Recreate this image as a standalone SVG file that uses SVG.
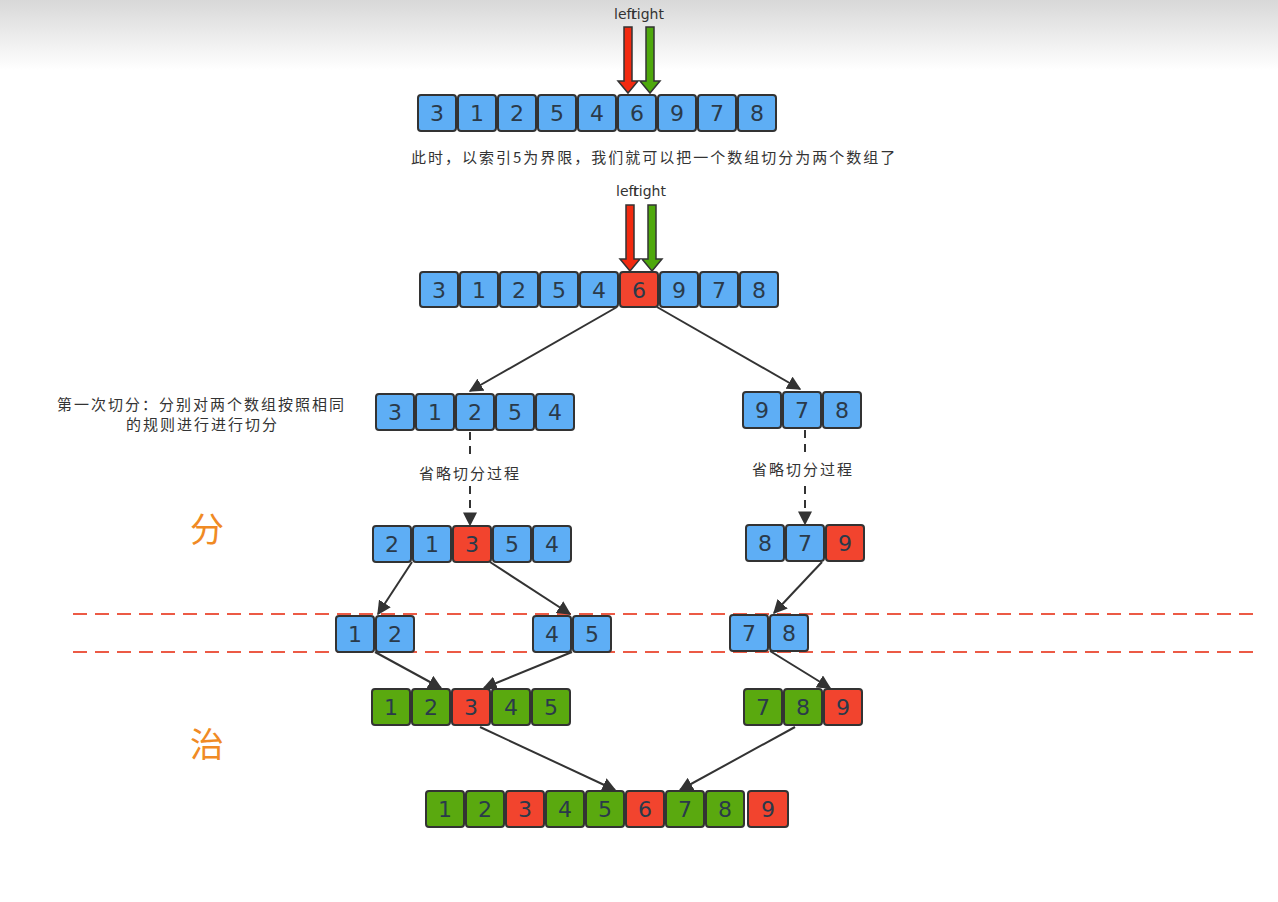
<svg xmlns="http://www.w3.org/2000/svg" width="1278" height="902" viewBox="0 0 1278 902">
<defs>
<linearGradient id="bg" x1="0" y1="0" x2="0" y2="1"><stop offset="0" stop-color="#d8d8d8"/><stop offset="1" stop-color="#ffffff"/></linearGradient>
<marker id="ah" viewBox="0 0 10 10" refX="9" refY="5" markerWidth="7" markerHeight="7" orient="auto"><path d="M0,0 L10,5 L0,10 z" fill="#333"/></marker>
</defs>
<style>
.b{fill:#5eaef5;stroke:#333;stroke-width:2}
.r{fill:#f2442e;stroke:#333;stroke-width:2}
.g{fill:#5aa90f;stroke:#333;stroke-width:2}
.n{font-family:"DejaVu Sans",sans-serif;font-size:22px;fill:#2a3a4a;text-anchor:middle}
.t{font-family:"Noto Sans CJK SC",sans-serif;font-size:15px;fill:#333;letter-spacing:2px}
.p{font-family:"DejaVu Sans",sans-serif;font-size:14px;fill:#333}
.c{stroke:#333;stroke-width:2;fill:none;marker-end:url(#ah)}
.d{stroke:#333;stroke-width:2;fill:none;stroke-dasharray:8 6;marker-end:url(#ah)}
.big{font-family:"Noto Sans CJK SC",sans-serif;font-size:34px;fill:#f08a24}
</style>
<rect width="1278" height="902" fill="#fff"/>
<rect width="1278" height="70" fill="url(#bg)"/>
<g id="pointers">
<text x="614" y="19" class="p">left</text>
<text x="631" y="19" class="p">right</text>
<path d="M624,27h8v54h6l-10,12l-10,-12h6z" fill="#f22a10" stroke="#333" stroke-width="1.5"/>
<path d="M646,27h8v54h6l-10,12l-10,-12h6z" fill="#4ea80c" stroke="#333" stroke-width="1.5"/>
<text x="616" y="196" class="p">left</text>
<text x="633" y="196" class="p">right</text>
<path d="M626,205h8v54h6l-10,12l-10,-12h6z" fill="#f22a10" stroke="#333" stroke-width="1.5"/>
<path d="M648,205h8v54h6l-10,12l-10,-12h6z" fill="#4ea80c" stroke="#333" stroke-width="1.5"/>
</g>
<g id="row1">
<rect class="b" x="418" y="95" width="38" height="36" rx="3"/><rect class="b" x="458" y="95" width="38" height="36" rx="3"/><rect class="b" x="498" y="95" width="38" height="36" rx="3"/><rect class="b" x="538" y="95" width="38" height="36" rx="3"/><rect class="b" x="578" y="95" width="38" height="36" rx="3"/><rect class="b" x="618" y="95" width="38" height="36" rx="3"/><rect class="b" x="658" y="95" width="38" height="36" rx="3"/><rect class="b" x="698" y="95" width="38" height="36" rx="3"/><rect class="b" x="738" y="95" width="38" height="36" rx="3"/>
<text class="n" y="121"><tspan x="437">3</tspan><tspan x="477">1</tspan><tspan x="517">2</tspan><tspan x="557">5</tspan><tspan x="597">4</tspan><tspan x="637">6</tspan><tspan x="677">9</tspan><tspan x="717">7</tspan><tspan x="757">8</tspan></text>
</g>
<text class="t" x="411" y="163">此时，以索引5为界限，我们就可以把一个数组切分为两个数组了</text>
<g id="row2">
<rect class="b" x="420" y="272" width="38" height="35" rx="3"/><rect class="b" x="460" y="272" width="38" height="35" rx="3"/><rect class="b" x="500" y="272" width="38" height="35" rx="3"/><rect class="b" x="540" y="272" width="38" height="35" rx="3"/><rect class="b" x="580" y="272" width="38" height="35" rx="3"/><rect class="r" x="620" y="272" width="38" height="35" rx="3"/><rect class="b" x="660" y="272" width="38" height="35" rx="3"/><rect class="b" x="700" y="272" width="38" height="35" rx="3"/><rect class="b" x="740" y="272" width="38" height="35" rx="3"/>
<text class="n" y="298"><tspan x="439">3</tspan><tspan x="479">1</tspan><tspan x="519">2</tspan><tspan x="559">5</tspan><tspan x="599">4</tspan><tspan x="639">6</tspan><tspan x="679">9</tspan><tspan x="719">7</tspan><tspan x="759">8</tspan></text>
</g>
<g id="row3">
<rect class="b" x="376" y="394" width="38" height="36" rx="3"/><rect class="b" x="416" y="394" width="38" height="36" rx="3"/><rect class="b" x="456" y="394" width="38" height="36" rx="3"/><rect class="b" x="496" y="394" width="38" height="36" rx="3"/><rect class="b" x="536" y="394" width="38" height="36" rx="3"/>
<text class="n" y="420"><tspan x="395">3</tspan><tspan x="435">1</tspan><tspan x="475">2</tspan><tspan x="515">5</tspan><tspan x="555">4</tspan></text>
<rect class="b" x="743" y="392" width="38" height="36" rx="3"/><rect class="b" x="783" y="392" width="38" height="36" rx="3"/><rect class="b" x="823" y="392" width="38" height="36" rx="3"/>
<text class="n" y="418"><tspan x="762">9</tspan><tspan x="802">7</tspan><tspan x="842">8</tspan></text>
</g>
<text class="t" x="57" y="410">第一次切分：分别对两个数组按照相同</text>
<text class="t" x="126" y="430">的规则进行进行切分</text>
<g id="row4">
<rect class="b" x="373" y="526" width="38" height="36" rx="3"/><rect class="b" x="413" y="526" width="38" height="36" rx="3"/><rect class="r" x="453" y="526" width="38" height="36" rx="3"/><rect class="b" x="493" y="526" width="38" height="36" rx="3"/><rect class="b" x="533" y="526" width="38" height="36" rx="3"/>
<text class="n" y="552"><tspan x="392">2</tspan><tspan x="432">1</tspan><tspan x="472">3</tspan><tspan x="512">5</tspan><tspan x="552">4</tspan></text>
<rect class="b" x="746" y="525" width="38" height="36" rx="3"/><rect class="b" x="786" y="525" width="38" height="36" rx="3"/><rect class="r" x="826" y="525" width="38" height="36" rx="3"/>
<text class="n" y="551"><tspan x="765">8</tspan><tspan x="805">7</tspan><tspan x="845">9</tspan></text>
</g>
<g id="dividers" stroke="#ec5a45" stroke-width="2" stroke-dasharray="14 8">
<line x1="73" y1="614" x2="1256" y2="614"/><line x1="73" y1="652" x2="1256" y2="652"/>
</g>
<g id="row5">
<rect class="b" x="336" y="616" width="38" height="36" rx="3"/><rect class="b" x="376" y="616" width="38" height="36" rx="3"/>
<text class="n" y="642"><tspan x="355">1</tspan><tspan x="395">2</tspan></text>
<rect class="b" x="533" y="616" width="38" height="36" rx="3"/><rect class="b" x="573" y="616" width="38" height="36" rx="3"/>
<text class="n" y="642"><tspan x="552">4</tspan><tspan x="592">5</tspan></text>
<rect class="b" x="730" y="615" width="38" height="36" rx="3"/><rect class="b" x="770" y="615" width="38" height="36" rx="3"/>
<text class="n" y="641"><tspan x="749">7</tspan><tspan x="789">8</tspan></text>
</g>
<g id="row6">
<rect class="g" x="372" y="689" width="38" height="36" rx="3"/><rect class="g" x="412" y="689" width="38" height="36" rx="3"/><rect class="r" x="452" y="689" width="38" height="36" rx="3"/><rect class="g" x="492" y="689" width="38" height="36" rx="3"/><rect class="g" x="532" y="689" width="38" height="36" rx="3"/>
<text class="n" y="715"><tspan x="391">1</tspan><tspan x="431">2</tspan><tspan x="471">3</tspan><tspan x="511">4</tspan><tspan x="551">5</tspan></text>
<rect class="g" x="744" y="689" width="38" height="36" rx="3"/><rect class="g" x="784" y="689" width="38" height="36" rx="3"/><rect class="r" x="824" y="689" width="38" height="36" rx="3"/>
<text class="n" y="715"><tspan x="763">7</tspan><tspan x="803">8</tspan><tspan x="843">9</tspan></text>
</g>
<g id="row7">
<rect class="g" x="426" y="791" width="38" height="36" rx="3"/><rect class="g" x="466" y="791" width="38" height="36" rx="3"/><rect class="r" x="506" y="791" width="38" height="36" rx="3"/><rect class="g" x="546" y="791" width="38" height="36" rx="3"/><rect class="g" x="586" y="791" width="38" height="36" rx="3"/><rect class="r" x="626" y="791" width="38" height="36" rx="3"/><rect class="g" x="666" y="791" width="38" height="36" rx="3"/><rect class="g" x="706" y="791" width="38" height="36" rx="3"/><rect class="r" x="748" y="791" width="40" height="36" rx="3"/>
<text class="n" y="817"><tspan x="445">1</tspan><tspan x="485">2</tspan><tspan x="525">3</tspan><tspan x="565">4</tspan><tspan x="605">5</tspan><tspan x="645">6</tspan><tspan x="685">7</tspan><tspan x="725">8</tspan><tspan x="768">9</tspan></text>
</g>
<text class="big" x="190" y="542">分</text>
<text class="big" x="190" y="757">治</text>
<g id="connectors">
<line class="c" x1="617" y1="307" x2="470" y2="391"/>
<line class="c" x1="657" y1="307" x2="800" y2="389"/>
<line x1="470" y1="432" x2="470" y2="455" stroke="#333" stroke-width="2" stroke-dasharray="8 6"/>
<line class="d" x1="470" y1="486" x2="470" y2="525"/>
<line x1="805" y1="430" x2="805" y2="455" stroke="#333" stroke-width="2" stroke-dasharray="8 6"/>
<line class="d" x1="805" y1="486" x2="805" y2="524"/>
<line class="c" x1="412" y1="562" x2="378" y2="614"/>
<line class="c" x1="490" y1="562" x2="570" y2="614"/>
<line class="c" x1="822" y1="562" x2="774" y2="613"/>
<line class="c" x1="375" y1="652" x2="441" y2="688"/>
<line class="c" x1="572" y1="652" x2="484" y2="688"/>
<line class="c" x1="770" y1="651" x2="830" y2="688"/>
<line class="c" x1="480" y1="727" x2="615" y2="790"/>
<line class="c" x1="795" y1="727" x2="680" y2="790"/>
</g>
<text class="t" x="419" y="479">省略切分过程</text>
<text class="t" x="752" y="475">省略切分过程</text>
</svg>
